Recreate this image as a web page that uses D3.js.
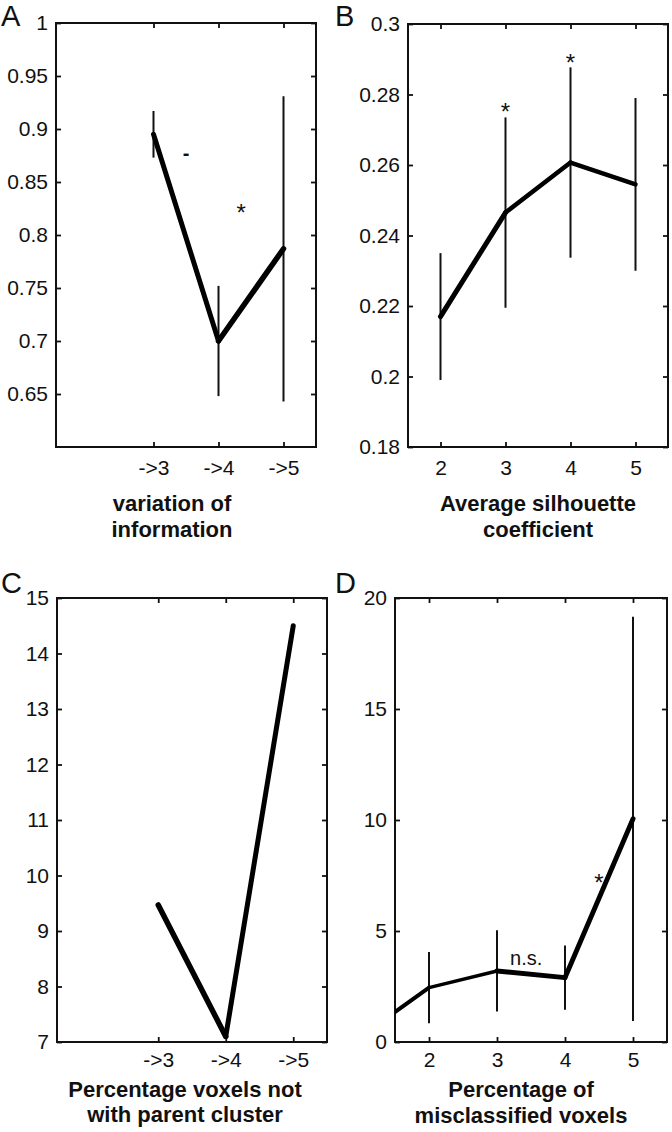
<!DOCTYPE html>
<html>
<head>
<meta charset="utf-8">
<script src="https://cdn.jsdelivr.net/npm/d3@7"></script>
<style>
  html, body { margin: 0; padding: 0; background: #fff; }
  svg { display: block; }
</style>
</head>
<body>
<svg id="chart" width="672" height="1132"></svg>
<script>
// ---------------- DATA ----------------
// Panel A: variation of information
const xA = [3, 4, 5];
const meanA = [0.895, 0.700, 0.787];
const errA = [0.022, 0.052, 0.144];
const xTickValsA = [3, 4, 5];
const xTickLabelsA = ["->3", "->4", "->5"];
const yTickValsA = [0.65, 0.7, 0.75, 0.8, 0.85, 0.9, 0.95, 1];
const yTickLabelsA = ["0.65", "0.7", "0.75", "0.8", "0.85", "0.9", "0.95", "1"];
const annotA = [
  { x: 3.5, y: 0.877, text: "-", bold: true },
  { x: 4.35, y: 0.826, text: "*" }
];

// Panel B: average silhouette coefficient
const xB = [2, 3, 4, 5];
const meanB = [0.217, 0.2465, 0.2607, 0.2545];
const errB = [0.018, 0.027, 0.027, 0.0245];
const xTickValsB = [2, 3, 4, 5];
const xTickLabelsB = ["2", "3", "4", "5"];
const yTickValsB = [0.18, 0.2, 0.22, 0.24, 0.26, 0.28, 0.3];
const yTickLabelsB = ["0.18", "0.2", "0.22", "0.24", "0.26", "0.28", "0.3"];
const annotB = [
  { x: 3, y: 0.2767, text: "*" },
  { x: 4, y: 0.2906, text: "*" }
];

// Panel C: percentage voxels not with parent cluster
const xC = [3, 4, 5];
const meanC = [9.47, 7.1, 14.5];
const errC = [null, null, null];
const xTickValsC = [3, 4, 5];
const xTickLabelsC = ["->3", "->4", "->5"];
const yTickValsC = [7, 8, 9, 10, 11, 12, 13, 14, 15];
const yTickLabelsC = ["7", "8", "9", "10", "11", "12", "13", "14", "15"];
const annotC = [];

// Panel D: percentage of misclassified voxels
const xD = [1, 2, 3, 4, 5];
const meanD = [0.25, 2.45, 3.2, 2.9, 10.05];
const errD = [null, 1.6, 1.83, 1.45, 9.1];
const xTickValsD = [2, 3, 4, 5];
const xTickLabelsD = ["2", "3", "4", "5"];
const yTickValsD = [0, 5, 10, 15, 20];
const yTickLabelsD = ["0", "5", "10", "15", "20"];
const annotD = [
  { x: 3.43, y: 3.78, text: "n.s.", plain: true },
  { x: 4.5, y: 7.43, text: "*" }
];

// ---------------- LAYOUT / STYLE ----------------
const FONT = "'Liberation Sans', Arial, Helvetica, sans-serif";
const svg = d3.select("#chart");

const panels = [
  { letter: "A", letterX: 1, letterY: 26,
    box: { l: 56, r: 316, t: 23, b: 447 }, xDomain: [1.5, 5.5], yDomain: [0.6, 1],
    xs: xA, means: meanA, errs: errA, xt: xTickValsA, xl: xTickLabelsA, yt: yTickValsA, yl: yTickLabelsA,
    annots: annotA, segW: [5, 5.5], xPad: 13,
    title: ["variation of", "information"], titleX: 172, titleY: [511, 537] },
  { letter: "B", letterX: 335, letterY: 26,
    box: { l: 408, r: 668, t: 24, b: 447 }, xDomain: [1.5, 5.5], yDomain: [0.18, 0.3],
    xs: xB, means: meanB, errs: errB, xt: xTickValsB, xl: xTickLabelsB, yt: yTickValsB, yl: yTickLabelsB,
    annots: annotB, segW: [5, 4.5, 4.5], xPad: 13,
    title: ["Average silhouette", "coefficient"], titleX: 538, titleY: [511, 537] },
  { letter: "C", letterX: 1, letterY: 593,
    box: { l: 57, r: 327, t: 598, b: 1042 }, xDomain: [1.5, 5.5], yDomain: [7, 15],
    xs: xC, means: meanC, errs: errC, xt: xTickValsC, xl: xTickLabelsC, yt: yTickValsC, yl: yTickLabelsC,
    annots: annotC, segW: [5.5, 5], xPad: 10,
    title: ["Percentage voxels not", "with parent cluster"], titleX: 185, titleY: [1097, 1122] },
  { letter: "D", letterX: 335, letterY: 593,
    box: { l: 395, r: 667, t: 598, b: 1042 }, xDomain: [1.5, 5.5], yDomain: [0, 20],
    xs: xD, means: meanD, errs: errD, xt: xTickValsD, xl: xTickLabelsD, yt: yTickValsD, yl: yTickLabelsD,
    annots: annotD, segW: [4, 3.5, 5, 5], xPad: 10,
    title: ["Percentage of", "misclassified voxels"], titleX: 521, titleY: [1097, 1123] }
];

panels.forEach((p, pi) => {
  const { l, r, t, b } = p.box;
  const x = d3.scaleLinear().domain(p.xDomain).range([l, r]);
  const y = d3.scaleLinear().domain(p.yDomain).range([b, t]);
  const g = svg.append("g");

  const clipId = "clip" + pi;
  svg.append("defs").append("clipPath").attr("id", clipId)
    .append("rect").attr("x", l).attr("y", t).attr("width", r - l).attr("height", b - t);

  // axes
  const styleAxis = sel => {
    sel.select(".domain").remove();
    sel.selectAll(".tick line").attr("stroke", "#111").attr("stroke-width", 1.8);
    sel.selectAll(".tick text").attr("fill", "#111").style("font-family", FONT).style("font-size", "21px");
  };
  g.append("g").attr("transform", `translate(${l},0)`)
    .call(d3.axisLeft(y).tickValues(p.yt).tickFormat((d, i) => p.yl[i]).tickSize(-5).tickPadding(8))
    .call(styleAxis);
  g.append("g").attr("transform", `translate(${r},0)`)
    .call(d3.axisRight(y).tickValues(p.yt).tickFormat("").tickSize(-5))
    .call(styleAxis);
  g.append("g").attr("transform", `translate(0,${b})`)
    .call(d3.axisBottom(x).tickValues(p.xt).tickFormat((d, i) => p.xl[i]).tickSize(-5).tickPadding(p.xPad))
    .call(styleAxis);
  g.append("g").attr("transform", `translate(0,${t})`)
    .call(d3.axisTop(x).tickValues(p.xt).tickFormat("").tickSize(-5))
    .call(styleAxis);

  // box
  g.append("rect").attr("x", l).attr("y", t).attr("width", r - l).attr("height", b - t)
    .attr("fill", "none").attr("stroke", "#111").attr("stroke-width", 2);

  const pts = p.xs.map((xv, i) => ({ x: xv, m: p.means[i], e: p.errs[i] }));

  // error bars
  g.append("g").attr("clip-path", `url(#${clipId})`)
    .selectAll("line").data(pts.filter(d => d.e != null)).join("line")
    .attr("x1", d => x(d.x)).attr("x2", d => x(d.x))
    .attr("y1", d => y(d.m - d.e)).attr("y2", d => y(d.m + d.e))
    .attr("stroke", "#111").attr("stroke-width", 2);

  // line segments
  const segs = d3.pairs(pts);
  g.append("g").attr("clip-path", `url(#${clipId})`)
    .selectAll("line").data(segs).join("line")
    .attr("x1", d => x(d[0].x)).attr("y1", d => y(d[0].m))
    .attr("x2", d => x(d[1].x)).attr("y2", d => y(d[1].m))
    .attr("stroke", "#000").attr("stroke-linecap", "round")
    .attr("stroke-width", (d, i) => p.segW[i]);

  // annotations
  p.annots.forEach(a => {
    const fs = a.text === "*" ? 24 : 20;
    const off = a.text === "*" ? 0.58 * fs : (a.bold ? 0.33 * fs : 0.36 * fs);
    g.append("text").attr("x", x(a.x)).attr("y", y(a.y) + off)
      .attr("text-anchor", "middle").attr("fill", "#111")
      .style("font-family", FONT).style("font-size", fs + "px")
      .style("font-weight", a.bold ? "bold" : "normal")
      .text(a.text);
  });

  // title
  const tt = g.append("text").attr("text-anchor", "middle").attr("fill", "#111")
    .style("font-family", FONT).style("font-size", "22px").style("font-weight", "bold");
  p.title.forEach((line, i) => {
    tt.append("tspan").attr("x", p.titleX).attr("y", p.titleY[i]).text(line);
  });

  // panel letter
  g.append("text").attr("x", p.letterX).attr("y", p.letterY).attr("fill", "#111")
    .style("font-family", FONT).style("font-size", "29px").text(p.letter);
});
</script>
</body>
</html>
